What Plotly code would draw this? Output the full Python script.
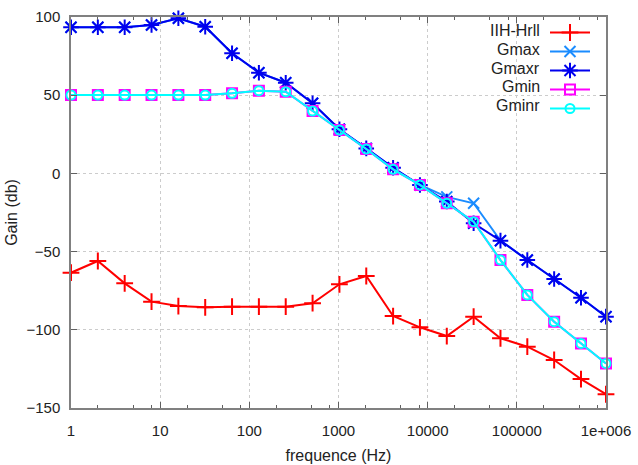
import plotly.graph_objects as go

freq = [1, 2, 4, 8, 16, 32, 64, 128, 256, 512, 1024, 2048, 4096, 8192,
        16384, 32768, 65536, 131072, 262144, 524288, 1000000]
iih_hrll = [-63.5, -56, -70.3, -82, -84.8, -85.6, -85.2, -85.2, -85.2, -83, -70.9,
            -65.6, -91.2, -98.4, -104, -91.6, -105.4, -110.8, -119.3, -131.5, -141.2]
gmax = [93.4, 93.4, 93.4, 94.9, 99.2, 93.8, 76.8, 64.4, 58, 44.8, 28.2,
        16, 3.6, -7.4, -15, -19.1, -43, -55.4, -67.5, -79.5, -91.6]
gmaxr = [93.4, 93.4, 93.4, 94.9, 99.2, 93.8, 76.8, 64.4, 58, 44.8, 28.2,
         16, 3.6, -7.4, -18, -31.9, -43, -55.4, -67.5, -79.5, -91.6]
gmin = [50.1, 50.1, 50.1, 50.1, 50.1, 50.1, 51.2, 52.9, 52.2, 39.9, 27.7,
        15.6, 2.6, -7.4, -19.1, -30.9, -55.4, -77.7, -94.8, -108.7, -121.5]
gminr = [50.1, 50.1, 50.1, 50.1, 50.1, 50.1, 51.2, 52.9, 52.2, 39.9, 27.7,
         15.6, 2.6, -7.4, -19.1, -30.9, -55.4, -77.7, -94.8, -108.7, -121.5]

series_names = ["IIH-Hrll", "Gmax", "Gmaxr", "Gmin", "Gminr"]
x_tickvals = [1, 10, 100, 1000, 10000, 100000, 1000000]
x_ticktext = ["1", "10", "100", "1000", "10000", "100000", "1e+006"]
y_tickvals = [-150, -100, -50, 0, 50, 100]

styles = [
    dict(color="#ff0000", symbol="cross-thin-open", size=12),
    dict(color="#1a8cff", symbol="x-thin-open", size=11),
    dict(color="#0000ee", symbol="asterisk-open", size=13),
    dict(color="#ff00ff", symbol="square-open", size=10),
    dict(color="#00ffff", symbol="circle-open", size=9),
]
data = [iih_hrll, gmax, gmaxr, gmin, gminr]

fig = go.Figure()
for name, ys, st in zip(series_names, data, styles):
    fig.add_trace(go.Scatter(
        x=freq, y=ys, mode="lines+markers", name="", showlegend=True,
        cliponaxis=False,
        line=dict(color=st["color"], width=2),
        marker=dict(symbol=st["symbol"], size=st["size"], color=st["color"],
                    line=dict(color=st["color"], width=2)),
        hovertext=name,
    ))

W, H = 638, 465
L, R, T, B = 71, 32, 17, 57
pw, ph = W - L - R, H - T - B

row_y = [31, 49.5, 68, 86.5, 105]
for name, py in zip(series_names, row_y):
    fig.add_annotation(
        text=name, xref="paper", yref="paper",
        x=(542 - L) / pw, y=(H - B - py) / ph,
        xanchor="right", yanchor="middle", showarrow=False,
        font=dict(family="Liberation Sans, Arial", size=16, color="#222222"),
    )

axis_common = dict(
    showline=True, linecolor="#808080", linewidth=1.5, mirror="ticks",
    ticks="inside", ticklen=6, tickcolor="#606060",
    showgrid=True, gridcolor="#cccccc", griddash="dot", gridwidth=1,
    zeroline=False, automargin=False,
    tickfont=dict(family="Liberation Sans, Arial", size=15, color="#222222"),
)

fig.update_xaxes(
    type="log", range=[0, 6],
    tickmode="array", tickvals=x_tickvals, ticktext=x_ticktext,
    ticklabelstandoff=8,
    minor=dict(tickmode="array",
               tickvals=[2, 5, 8, 20, 50, 80, 200, 500, 800, 2000, 5000, 8000,
                         20000, 50000, 80000, 200000, 500000, 800000],
               ticks="inside", ticklen=3, tickcolor="#606060", showgrid=False),
    title=dict(text="frequence (Hz)", standoff=12,
               font=dict(family="Liberation Sans, Arial", size=16, color="#222222")),
    **axis_common,
)
fig.update_yaxes(
    range=[-150, 100], tickmode="array", tickvals=y_tickvals,
    ticklabelstandoff=6,
    title=dict(text="Gain (db)", standoff=5,
               font=dict(family="Liberation Sans, Arial", size=16, color="#222222")),
    **axis_common,
)

fig.update_layout(
    width=W, height=H,
    margin=dict(l=L, r=R, t=T, b=B),
    paper_bgcolor="white", plot_bgcolor="white",
    legend=dict(x=(545 - L) / pw, y=(H - B - 18) / ph, xanchor="left", yanchor="top",
                bgcolor="rgba(0,0,0,0)", itemwidth=40, tracegroupgap=0,
                font=dict(size=12)),
    showlegend=True,
)

fig.write_html("out.html")
